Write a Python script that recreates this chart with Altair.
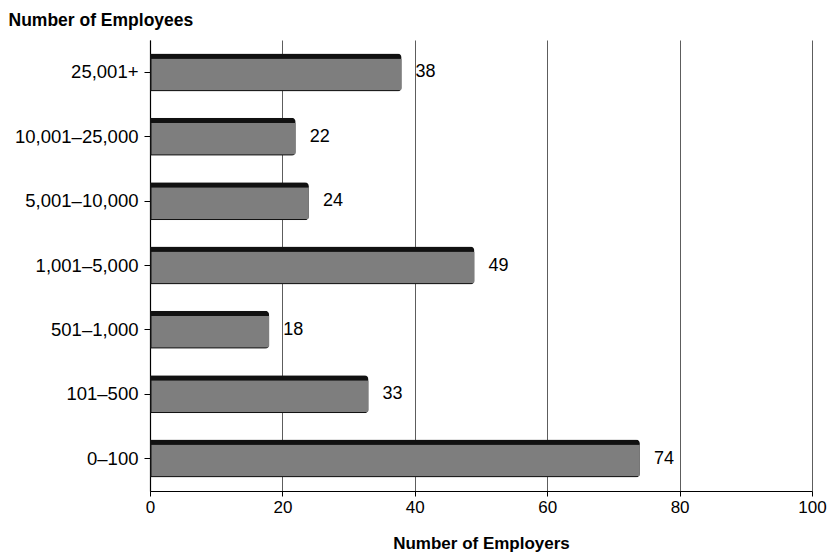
import altair as alt
import pandas as pd

categories = ["25,001+", "10,001–25,000", "5,001–10,000", "1,001–5,000", "501–1,000", "101–500", "0–100"]
values = [38, 22, 24, 49, 18, 33, 74]

df = pd.DataFrame({"cat": categories, "val": values})

FONT = "Liberation Sans"

y_enc = alt.Y("cat:N", sort=categories,
              scale=alt.Scale(paddingInner=0.41, paddingOuter=0.21),
              axis=alt.Axis(title="Number of Employees", titleAngle=0, titleAlign="left",
                            titleBaseline="alphabetic", titleX=-142, titleY=-15,
                            titleFontSize=17.5, titleFontWeight="bold", titleFont=FONT,
                            titleColor="black",
                            labelFont=FONT, labelFontSize=18.5, labelColor="black",
                            labelPadding=6, tickSize=6, tickColor="black",
                            domainColor="black", domainWidth=1.2, grid=False))
x_enc = alt.X("val:Q", scale=alt.Scale(domain=[0, 100]),
              axis=alt.Axis(title="Number of Employers", values=[0, 20, 40, 60, 80, 100],
                            titleFont=FONT, titleFontSize=17, titleFontWeight="bold",
                            titleColor="black", titleBaseline="alphabetic", titleY=57,
                            labelFont=FONT, labelFontSize=17, labelFlush=False,
                            labelColor="black", labelPadding=3, tickSize=5,
                            tickColor="black", domainColor="black", domainWidth=1.2,
                            grid=True, gridColor="#333333", gridWidth=0.8))

base = alt.Chart(df)

shadow = base.mark_bar(color="#111111", size=38, cornerRadiusTopRight=4,
                       cornerRadiusBottomRight=4).encode(x=x_enc, y=y_enc)
face = base.mark_bar(color="#7e7e7e", size=32, yOffset=2, xOffset=1.5, x2Offset=-5,
                     cornerRadiusBottomRight=2).encode(x="val:Q", y=alt.Y("cat:N", sort=categories))
labels = base.mark_text(align="left", baseline="middle", dx=14, font=FONT, fontSize=18,
                        color="black").encode(x="val:Q", y=alt.Y("cat:N", sort=categories),
                                              text="val:Q")

chart = alt.layer(shadow, face, labels).properties(
    width=662, height=451,
    autosize=alt.AutoSizeParams(type="none"),
    padding={"left": 150, "top": 40, "right": 23, "bottom": 62},
    background="white"
).configure_view(stroke=None)

chart.save("out.html", embed_options={"renderer": "svg", "actions": False})
